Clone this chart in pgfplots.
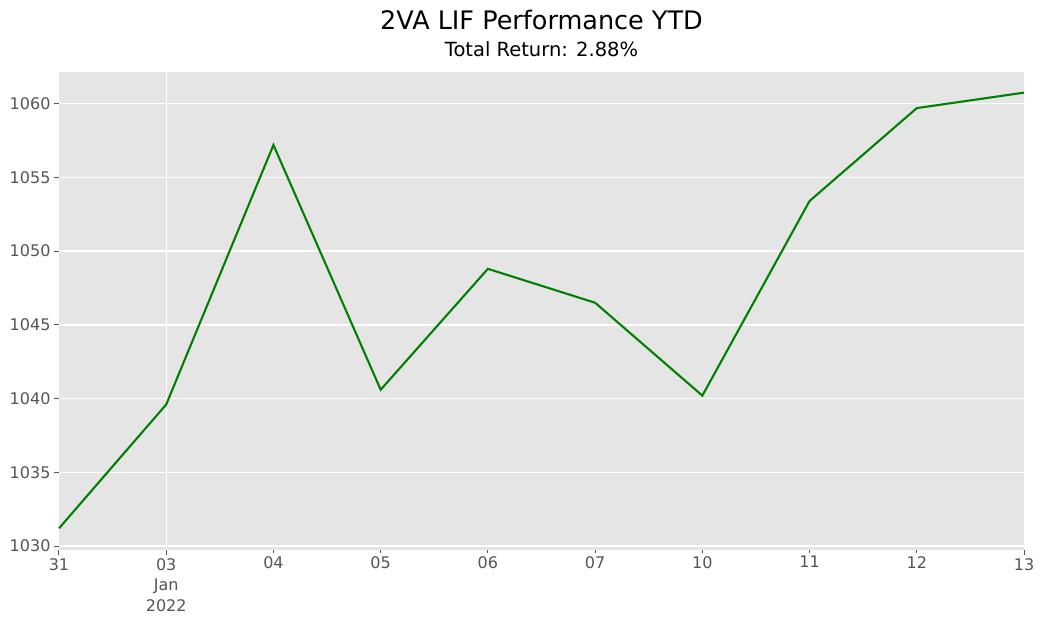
\documentclass[border=0pt]{standalone}
\usepackage{pgfplots}
\pgfplotsset{compat=1.18}
\usepackage{fontspec}
\setmainfont{DejaVu Sans}
\definecolor{bgc}{HTML}{E5E5E5}
\definecolor{tickc}{HTML}{555555}
\definecolor{linec}{RGB}{0,128,0}
\begin{document}
\begin{tikzpicture}
\begin{axis}[
  name=main,
  width=965pt, height=478pt, scale only axis,
  xmin=0, xmax=9, ymin=1029.73, ymax=1062.15,
  axis background/.style={fill=bgc},
  axis line style={draw=none},
  xtick pos=bottom, ytick pos=left,
  xtick={0,1,9},
  xticklabels={31,{03\\Jan\\2022},13},
  extra x ticks={2,...,8},
  extra x tick labels={04,05,06,07,10,11,12},
  extra x tick style={major tick length=2.8pt, grid=none},
  minor xtick={1}, xminorgrids, minor tick length=0pt,
  minor grid style={white, line width=1.4pt},
  xticklabel style={align=center, font=\fontsize{16}{20.5}\selectfont, text=tickc},
  ytick={1030,1035,...,1060},
  yticklabel style={font=\fontsize{16}{19}\selectfont, text=tickc},
  /pgf/number format/assume math mode=true,
  /pgf/number format/1000 sep={},
  ymajorgrids, xmajorgrids=false,
  major grid style={white, line width=1.4pt},
  tick style={tickc, line width=1pt},
  tick align=outside, major tick length=5pt,
  clip=false,
]
\addplot[linec, line width=2.1pt] coordinates {
(0,1031.2) (1,1039.6) (2,1057.2) (3,1040.6) (4,1048.8)
(5,1046.5) (6,1040.2) (7,1053.4) (8,1059.7) (9,1060.75)
};
\end{axis}
\node[font=\fontsize{25.5}{28}\selectfont, anchor=base] at ([yshift=42pt]main.north) {2VA LIF Performance YTD};
\node[font=\fontsize{19.5}{22}\selectfont, anchor=base] at ([yshift=15pt]main.north) {Total Return: 2.88\%};
\path ([xshift=-59pt,yshift=-70pt]main.south west) rectangle ([xshift=16pt,yshift=72pt]main.north east);
\end{tikzpicture}
\end{document}
